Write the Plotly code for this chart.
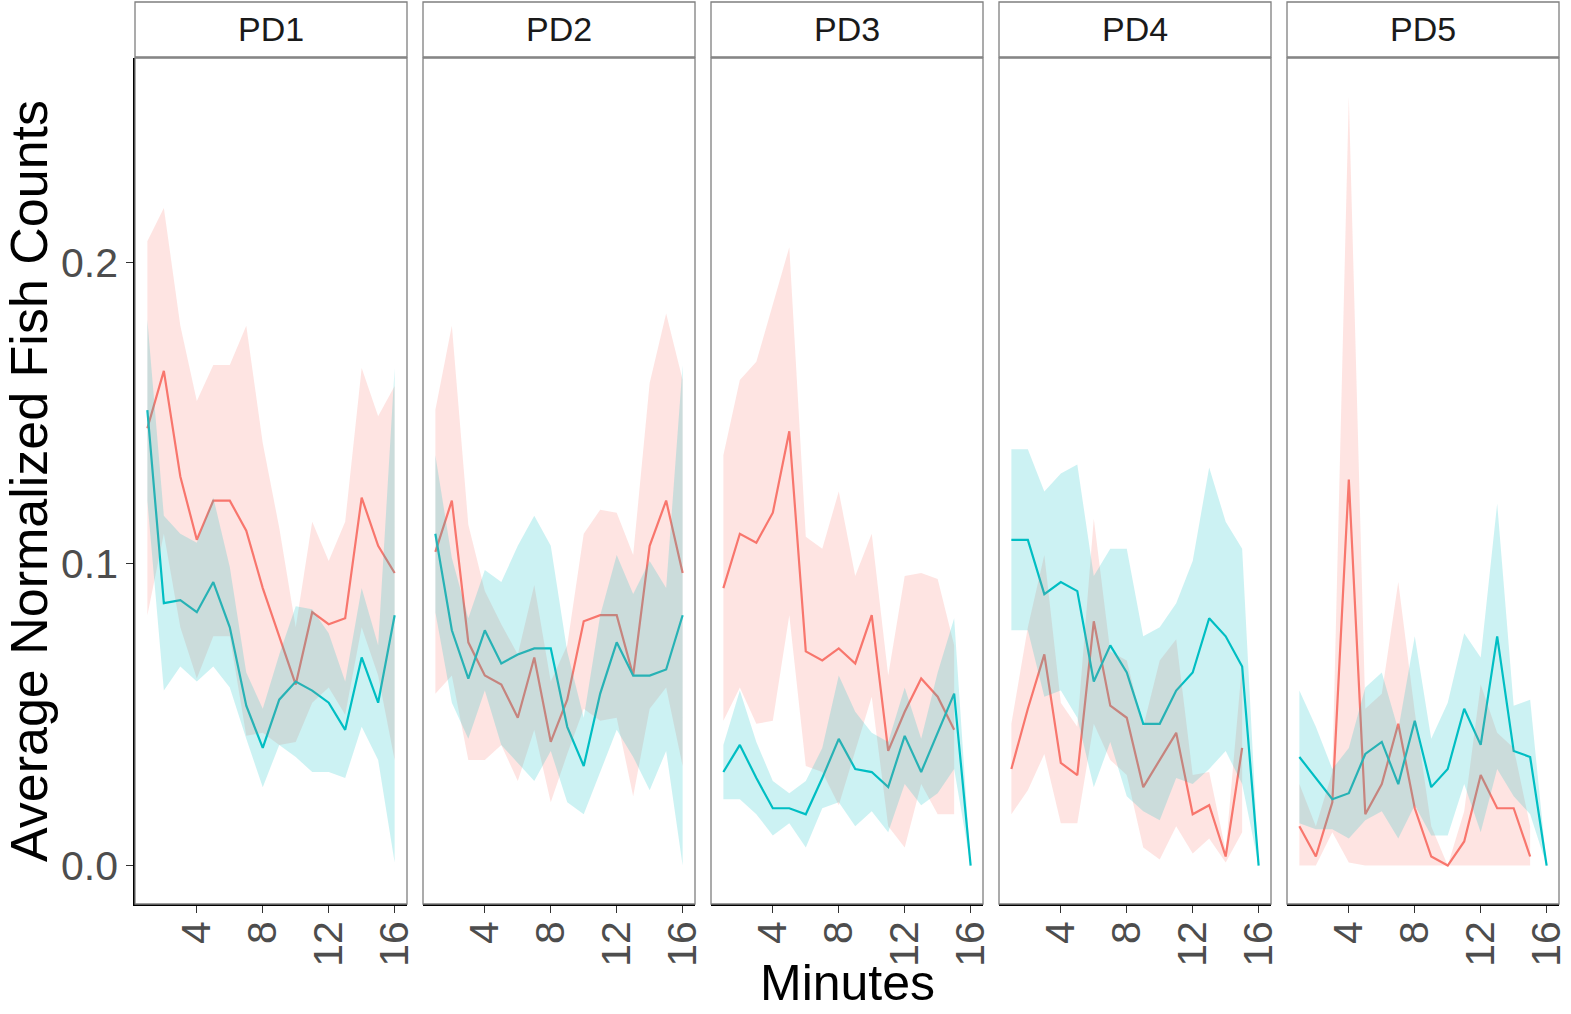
import plotly.graph_objects as go
from plotly.subplots import make_subplots

# ---- data -------------------------------------------------------------
minutes = list(range(1, 17))
panels = ["PD1", "PD2", "PD3", "PD4", "PD5"]
y_tickvals = [0.0, 0.1, 0.2]
y_ticktext = ["0.0", "0.1", "0.2"]
x_tickvals = [4, 8, 12, 16]

# group A (red) and group B (teal): mean and standard error per minute
pd1_red_mean = [0.145, 0.164, 0.129, 0.108, 0.121, 0.121, 0.111, 0.092, 0.076, 0.060, 0.084, 0.080, 0.082, 0.122, 0.106, 0.097]
pd1_red_se = [0.062, 0.054, 0.050, 0.046, 0.045, 0.045, 0.068, 0.048, 0.036, 0.019, 0.030, 0.021, 0.032, 0.043, 0.043, 0.062]
pd1_teal_mean = [0.151, 0.087, 0.088, 0.084, 0.094, 0.079, 0.053, 0.039, 0.055, 0.061, 0.058, 0.054, 0.045, 0.069, 0.054, 0.083]
pd1_teal_se = [0.030, 0.029, 0.022, 0.023, 0.028, 0.020, 0.011, 0.013, 0.015, 0.025, 0.027, 0.023, 0.016, 0.023, 0.019, 0.082]

pd2_red_mean = [0.104, 0.121, 0.074, 0.063, 0.060, 0.049, 0.069, 0.041, 0.055, 0.081, 0.083, 0.083, 0.063, 0.106, 0.121, 0.097]
pd2_red_se = [0.047, 0.058, 0.039, 0.028, 0.020, 0.021, 0.024, 0.020, 0.018, 0.029, 0.035, 0.034, 0.040, 0.054, 0.062, 0.064]
pd2_teal_mean = [0.110, 0.078, 0.062, 0.078, 0.067, 0.070, 0.072, 0.072, 0.046, 0.033, 0.057, 0.074, 0.063, 0.063, 0.065, 0.083]
pd2_teal_se = [0.026, 0.024, 0.020, 0.020, 0.027, 0.036, 0.044, 0.034, 0.025, 0.016, 0.026, 0.029, 0.027, 0.038, 0.027, 0.083]

pd3_red_mean = [0.092, 0.110, 0.107, 0.117, 0.144, 0.071, 0.068, 0.072, 0.067, 0.083, 0.038, 0.051, 0.062, 0.056, 0.045]
pd3_red_se = [0.044, 0.051, 0.060, 0.069, 0.061, 0.038, 0.037, 0.052, 0.029, 0.027, 0.025, 0.045, 0.035, 0.039, 0.028]
pd3_teal_mean = [0.031, 0.040, 0.029, 0.019, 0.019, 0.017, 0.029, 0.042, 0.032, 0.031, 0.026, 0.043, 0.031, 0.044, 0.057, 0.0]
pd3_teal_se = [0.009, 0.018, 0.012, 0.009, 0.005, 0.011, 0.010, 0.021, 0.019, 0.013, 0.015, 0.016, 0.011, 0.020, 0.025, 0.0]

pd4_red_mean = [0.032, 0.052, 0.070, 0.034, 0.030, 0.081, 0.053, 0.049, 0.026, 0.035, 0.044, 0.017, 0.020, 0.003, 0.039]
pd4_red_se = [0.015, 0.027, 0.033, 0.020, 0.016, 0.034, 0.018, 0.019, 0.020, 0.033, 0.031, 0.013, 0.011, 0.002, 0.028]
pd4_teal_mean = [0.108, 0.108, 0.090, 0.094, 0.091, 0.061, 0.073, 0.064, 0.047, 0.047, 0.058, 0.064, 0.082, 0.076, 0.066, 0.0]
pd4_teal_se = [0.030, 0.030, 0.034, 0.036, 0.042, 0.035, 0.032, 0.041, 0.029, 0.032, 0.029, 0.037, 0.050, 0.038, 0.039, 0.0]

pd5_red_mean = [0.013, 0.003, 0.021, 0.128, 0.017, 0.027, 0.047, 0.019, 0.003, 0.0, 0.008, 0.030, 0.019, 0.019, 0.003]
pd5_red_se = [0.014, 0.010, 0.010, 0.127, 0.035, 0.030, 0.047, 0.032, 0.010, 0.0, 0.010, 0.030, 0.025, 0.020, 0.010]
pd5_teal_mean = [0.036, 0.029, 0.022, 0.024, 0.037, 0.041, 0.027, 0.048, 0.026, 0.032, 0.052, 0.040, 0.076, 0.038, 0.036, 0.0]
pd5_teal_se = [0.022, 0.017, 0.010, 0.015, 0.022, 0.023, 0.018, 0.028, 0.016, 0.022, 0.025, 0.029, 0.044, 0.015, 0.019, 0.0]

red_means = [pd1_red_mean, pd2_red_mean, pd3_red_mean, pd4_red_mean, pd5_red_mean]
red_ses = [pd1_red_se, pd2_red_se, pd3_red_se, pd4_red_se, pd5_red_se]
teal_means = [pd1_teal_mean, pd2_teal_mean, pd3_teal_mean, pd4_teal_mean, pd5_teal_mean]
teal_ses = [pd1_teal_se, pd2_teal_se, pd3_teal_se, pd4_teal_se, pd5_teal_se]

# ---- style ------------------------------------------------------------
RED = "#F8766D"
TEAL = "#00BFC4"
RED_FILL = "rgba(248,118,109,0.2)"
TEAL_FILL = "rgba(0,191,196,0.2)"
FONT = "Liberation Sans, Arial, Helvetica, sans-serif"

W, H = 1571, 1014
ML, MR, MT, MB = 135, 12, 58, 110
PLOT_W = W - ML - MR
PLOT_H = H - MT - MB

fig = make_subplots(rows=1, cols=5, shared_yaxes=True,
                    horizontal_spacing=16 / PLOT_W)


def ribbon(x, mean, se, fill):
    lo = [max(0.0, m - s) for m, s in zip(mean, se)]
    hi = [m + s for m, s in zip(mean, se)]
    return go.Scatter(x=list(x) + list(x)[::-1], y=hi + lo[::-1],
                      fill="toself", fillcolor=fill, mode="none",
                      line=dict(width=0), hoverinfo="skip", showlegend=False)


for i in range(5):
    col = i + 1
    xr = minutes[:len(red_means[i])]
    xt = minutes[:len(teal_means[i])]
    # lines first, ribbons drawn over them
    fig.add_trace(go.Scatter(x=xr, y=red_means[i], mode="lines",
                             line=dict(color=RED, width=2.2), showlegend=False),
                  row=1, col=col)
    fig.add_trace(go.Scatter(x=xt, y=teal_means[i], mode="lines",
                             line=dict(color=TEAL, width=2.2), showlegend=False),
                  row=1, col=col)
    fig.add_trace(ribbon(xr, red_means[i], red_ses[i], RED_FILL), row=1, col=col)
    fig.add_trace(ribbon(xt, teal_means[i], teal_ses[i], TEAL_FILL), row=1, col=col)

    xa = "x" if i == 0 else f"x{col}"
    ya = "y" if i == 0 else f"y{col}"
    # panel border
    fig.add_shape(type="rect", xref=f"{xa} domain", yref=f"{ya} domain",
                  x0=0, x1=1, y0=0, y1=1, line=dict(color="#7F7F7F", width=1.3),
                  layer="above")
    # strip
    fig.add_shape(type="rect", xref=f"{xa} domain", yref="paper",
                  x0=0, x1=1, y0=1 + 1 / PLOT_H, y1=1 + 56 / PLOT_H,
                  line=dict(color="#7F7F7F", width=1.3), fillcolor="white")
    fig.add_annotation(text=panels[i], xref=f"{xa} domain", yref="paper",
                       x=0.5, y=1 + 29 / PLOT_H, showarrow=False,
                       xanchor="center", yanchor="middle",
                       font=dict(family=FONT, size=34, color="#1A1A1A"))

fig.update_xaxes(range=[0.25, 16.75], tickvals=x_tickvals, tickangle=-90,
                 ticks="outside", ticklen=7, tickwidth=1.3, tickcolor="#333333",
                 showline=True, linecolor="black", linewidth=1.6,
                 showgrid=False, zeroline=False, automargin=False,
                 ticklabelstandoff=-8,
                 tickfont=dict(family=FONT, size=41, color="#4D4D4D"))
fig.update_yaxes(range=[-0.01275, 0.26775], tickvals=y_tickvals, ticktext=y_ticktext,
                 showgrid=False, zeroline=False, automargin=False)
fig.update_yaxes(row=1, col=1, ticks="outside", ticklen=7, tickwidth=1.3,
                 tickcolor="#333333", showline=True, linecolor="black", linewidth=1.6,
                 tickfont=dict(family=FONT, size=41, color="#4D4D4D"))
for c in range(2, 6):
    fig.update_yaxes(row=1, col=c, showticklabels=False, ticks="")

fig.add_annotation(text="Minutes", xref="paper", yref="paper",
                   x=0.5, y=-(983 - (H - MB)) / PLOT_H, showarrow=False,
                   xanchor="center", yanchor="middle",
                   font=dict(family=FONT, size=50, color="black"))
fig.add_annotation(text="Average Normalized Fish Counts", xref="paper", yref="paper",
                   x=-(ML - 29) / PLOT_W, y=0.5, showarrow=False,
                   textangle=-90, xanchor="center", yanchor="middle",
                   font=dict(family=FONT, size=52, color="black"))

fig.update_layout(width=W, height=H, plot_bgcolor="white", paper_bgcolor="white",
                  margin=dict(l=ML, r=MR, t=MT, b=MB, autoexpand=False),
                  showlegend=False)

fig.write_html("out.html")
